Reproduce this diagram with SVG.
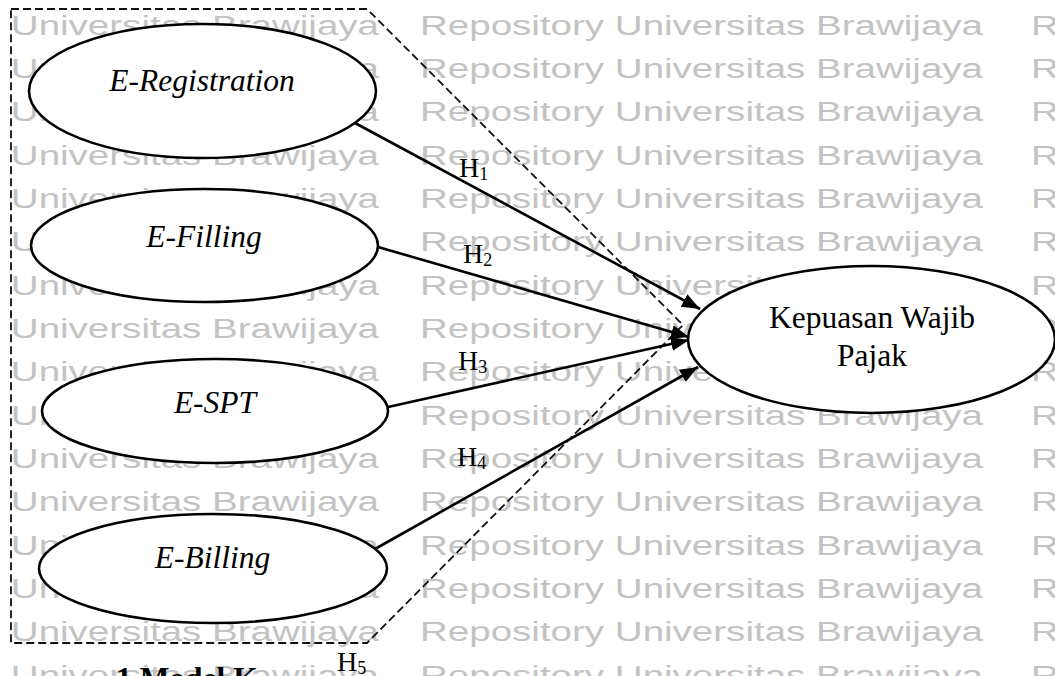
<svg xmlns="http://www.w3.org/2000/svg" width="1055" height="676" viewBox="0 0 1055 676">
<style>
.wm{font-family:"Liberation Sans",Arial,sans-serif;font-size:27px;fill:#c3c3c3}
.node ellipse{fill:#fff;stroke:#000;stroke-width:2.6}
.lbl{font-family:"Liberation Serif","Times New Roman",serif;font-size:31.5px;fill:#000;text-anchor:middle}
.it{font-style:italic}
.h{font-family:"Liberation Serif","Times New Roman",serif;font-size:28px;fill:#000}
.sub{font-size:18px}
.edge{stroke:#000;stroke-width:2.6;fill:none;marker-end:url(#ah)}
.dash{fill:none;stroke:#111;stroke-width:1.8;stroke-dasharray:8 4}
.cap{font-family:"Liberation Serif","Times New Roman",serif;font-size:31.5px;font-weight:bold;fill:#000}
</style>
<defs>
<marker id="ah" markerUnits="userSpaceOnUse" markerWidth="20" markerHeight="14" refX="18" refY="7" orient="auto"><path d="M0,0 L18,7 L0,14 z" fill="#000"/></marker>
<g id="wmrow">
<text class="wm" x="-184" y="0" textLength="563" lengthAdjust="spacingAndGlyphs">Repository Universitas Brawijaya</text>
<text class="wm" x="420" y="0" textLength="563" lengthAdjust="spacingAndGlyphs">Repository Universitas Brawijaya</text>
<text class="wm" x="1031" y="0" textLength="563" lengthAdjust="spacingAndGlyphs">Repository Universitas Brawijaya</text>
</g>
</defs>
<rect width="1055" height="676" fill="#fff"/>
<g id="watermark">
<use href="#wmrow" y="-8.85"/>
<use href="#wmrow" y="34.5"/>
<use href="#wmrow" y="77.85"/>
<use href="#wmrow" y="121.2"/>
<use href="#wmrow" y="164.55"/>
<use href="#wmrow" y="207.9"/>
<use href="#wmrow" y="251.25"/>
<use href="#wmrow" y="294.6"/>
<use href="#wmrow" y="337.95"/>
<use href="#wmrow" y="381.3"/>
<use href="#wmrow" y="424.65"/>
<use href="#wmrow" y="468"/>
<use href="#wmrow" y="511.35"/>
<use href="#wmrow" y="554.7"/>
<use href="#wmrow" y="598.05"/>
<use href="#wmrow" y="641.4"/>
<use href="#wmrow" y="684.75"/>
</g>
<g id="connectors">
<polygon class="dash" points="11,9 367,9 683,325 367,643 11,643"/>
<line class="edge" x1="355" y1="123" x2="700" y2="309"/>
<line class="edge" x1="378" y1="247" x2="689" y2="337"/>
<line class="edge" x1="388" y1="407" x2="689" y2="340"/>
<line class="edge" x1="375" y1="549" x2="698" y2="367"/>
<text class="h" x="459" y="177">H<tspan class="sub" dy="3">1</tspan></text>
<text class="h" x="463" y="263">H<tspan class="sub" dy="3">2</tspan></text>
<text class="h" x="458" y="370">H<tspan class="sub" dy="3">3</tspan></text>
<text class="h" x="457" y="466">H<tspan class="sub" dy="3">4</tspan></text>
<text class="h" x="337" y="671">H<tspan class="sub" dy="3">5</tspan></text>
</g>
<g id="n-eregistration" class="node">
<ellipse cx="202.5" cy="91" rx="173.5" ry="67"/>
<text class="lbl it" x="202" y="91">E-Registration</text>
</g>
<g id="n-efilling" class="node">
<ellipse cx="204.5" cy="245.5" rx="173.5" ry="56.5"/>
<text class="lbl it" x="204" y="247">E-Filling</text>
</g>
<g id="n-espt" class="node">
<ellipse cx="215" cy="411" rx="173" ry="52"/>
<text class="lbl it" x="215" y="413">E-SPT</text>
</g>
<g id="n-ebilling" class="node">
<ellipse cx="213" cy="568.5" rx="174" ry="54.5"/>
<text class="lbl it" x="212.5" y="568">E-Billing</text>
</g>
<g id="n-kepuasan" class="node">
<ellipse cx="871.5" cy="339.5" rx="183.5" ry="73.5"/>
<text class="lbl" x="872" y="328">Kepuasan Wajib</text>
<text class="lbl" x="872" y="366">Pajak</text>
</g>
<text class="cap" x="116" y="689">1 Model K</text>
</svg>
